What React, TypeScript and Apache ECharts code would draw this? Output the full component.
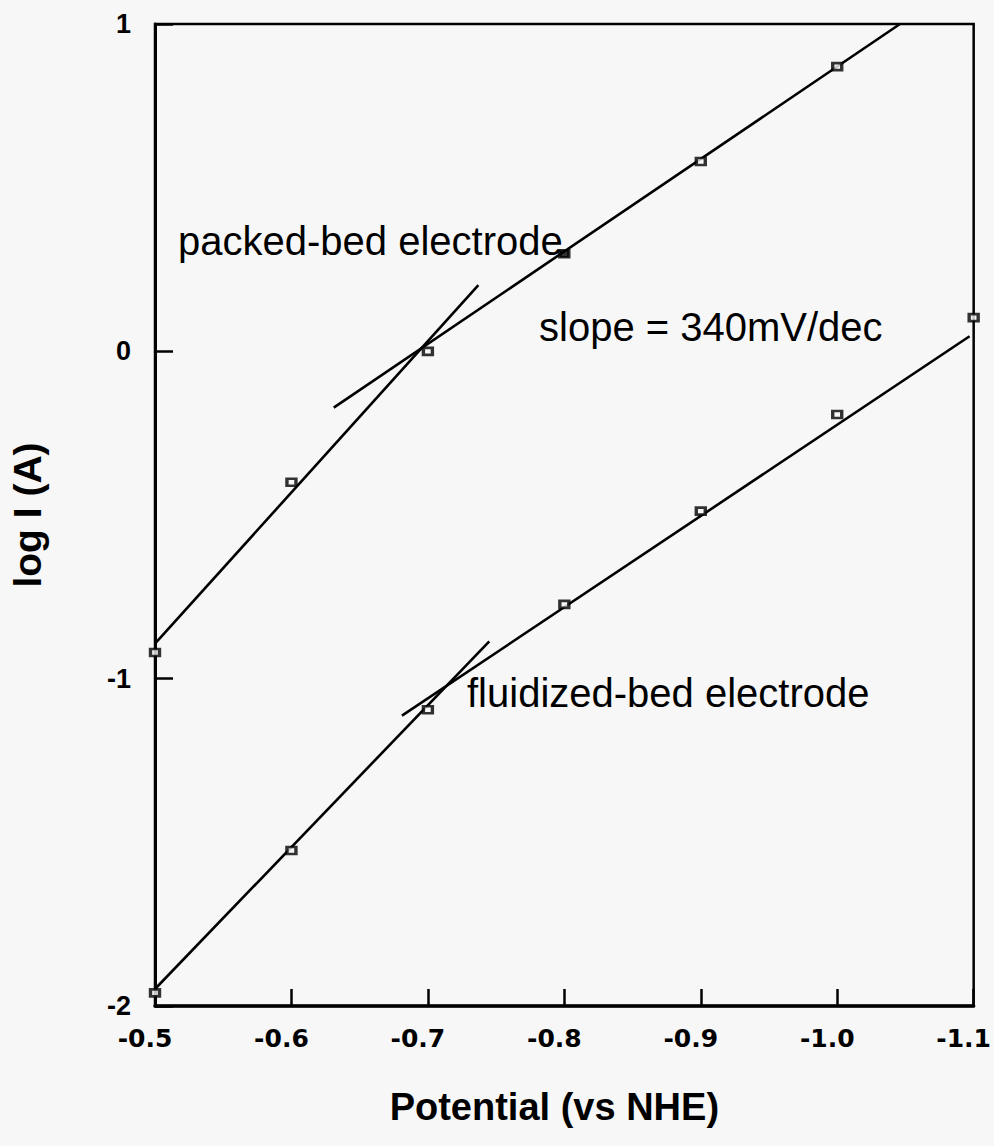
import React, { useEffect, useRef } from "react";
import * as echarts from "echarts";

// Data
const potentials = [-0.5, -0.6, -0.7, -0.8, -0.9, -1.0, -1.1];
const packedLogI = [-0.92, -0.4, 0.0, 0.298, 0.58, 0.87];
const fluidizedLogI = [-1.96, -1.525, -1.095, -0.773, -0.488, -0.193, 0.103];
const filledPackedIndex = 3; // the -0.8 V packed-bed point is drawn filled

// Fitted straight-line segments [x, y] endpoints
const packedSteepFit = [[-0.5, -0.893], [-0.737, 0.202]];
const packedShallowFit = [[-0.631, -0.172], [-1.046, 1.0]];
const fluidizedSteepFit = [[-0.5, -1.948], [-0.745, -0.886]];
const fluidizedShallowFit = [[-0.681, -1.113], [-1.097, 0.046]];

const xTicks = { min: -1.1, max: -0.5, interval: 0.1 };
const yTicks = { min: -2, max: 1, interval: 1 };

const annotations = [
  { text: "packed-bed electrode", x: 178, y: 241 },
  { text: "slope = 340mV/dec", x: 539, y: 327 },
  { text: "fluidized-bed electrode", x: 467, y: 693 },
];

const FONT = "'Liberation Sans', Arial, Helvetica, sans-serif";
const TICK_FONT = "'DejaVu Sans', 'Liberation Sans', Arial, sans-serif";
const BG = "#f7f7f7";

export default function App() {
  const ref = useRef<HTMLDivElement>(null);

  useEffect(() => {
    document.body.style.margin = "0";
    document.body.style.background = BG;
    const chart = echarts.init(ref.current!, null, { renderer: "svg" });

    const fitLine = (name: string, pts: number[][]) => ({
      name,
      type: "line",
      data: pts,
      symbol: "none",
      silent: true,
      lineStyle: { color: "#000", width: 2.6 },
      z: 3,
    });

    const markerStyle = { color: BG, borderColor: "#000", borderWidth: 3 };

    chart.setOption({
      animation: false,
      backgroundColor: BG,
      grid: {
        left: 153,
        right: 18,
        top: 24,
        bottom: 140,
        show: true,
        borderColor: "#000",
        borderWidth: 2.5,
        backgroundColor: "transparent",
      },
      xAxis: {
        type: "value",
        min: xTicks.min,
        max: xTicks.max,
        interval: xTicks.interval,
        inverse: true,
        name: "Potential (vs NHE)",
        nameLocation: "middle",
        nameGap: 82,
        nameTextStyle: {
          fontFamily: FONT,
          fontSize: 38,
          fontWeight: "bold",
          color: "#000",
          padding: [0, 20, 0, 0],
        },
        axisLine: { show: true, onZero: false, lineStyle: { color: "#000", width: 3.5 } },
        axisTick: { show: true, inside: true, length: 17, lineStyle: { color: "#000", width: 2.5 } },
        axisLabel: {
          margin: 20,
          fontFamily: TICK_FONT,
          fontSize: 25,
          fontWeight: "bold",
          color: "#000",
          padding: [0, 20, 0, 0],
          showMinLabel: true,
          showMaxLabel: true,
          formatter: (v: number) => v.toFixed(1),
        },
        splitLine: { show: false },
      },
      yAxis: {
        type: "value",
        min: yTicks.min,
        max: yTicks.max,
        interval: yTicks.interval,
        name: "log I (A)",
        nameLocation: "middle",
        nameGap: 108,
        nameTextStyle: { fontFamily: FONT, fontSize: 39, fontWeight: "bold", color: "#000" },
        axisLine: { show: true, onZero: false, lineStyle: { color: "#000", width: 3 } },
        axisTick: { show: true, inside: true, length: 18, lineStyle: { color: "#000", width: 2.5 } },
        axisLabel: {
          margin: 24,
          fontFamily: FONT,
          fontSize: 27,
          fontWeight: "bold",
          color: "#000",
          formatter: (v: number) => String(Math.round(v)),
        },
        splitLine: { show: false },
      },
      graphic: annotations.map((a) => ({
        type: "text",
        x: a.x,
        y: a.y,
        z: 10,
        style: {
          text: a.text,
          fontFamily: FONT,
          fontSize: 40,
          fill: "#000",
          textAlign: "left",
          textVerticalAlign: "middle",
        },
      })),
      series: [
        fitLine("packed steep", packedSteepFit),
        fitLine("packed shallow", packedShallowFit),
        fitLine("fluidized steep", fluidizedSteepFit),
        fitLine("fluidized shallow", fluidizedShallowFit),
        {
          name: "packed-bed electrode",
          type: "scatter",
          symbol: "rect",
          symbolSize: [9, 7],
          itemStyle: markerStyle,
          z: 5,
          data: packedLogI.map((y, i) =>
            i === filledPackedIndex
              ? { value: [potentials[i], y], itemStyle: { color: "#000" } }
              : [potentials[i], y]
          ),
        },
        {
          name: "fluidized-bed electrode",
          type: "scatter",
          symbol: "rect",
          symbolSize: [9, 7],
          itemStyle: markerStyle,
          z: 5,
          data: fluidizedLogI.map((y, i) => [potentials[i], y]),
        },
      ],
    });

    return () => chart.dispose();
  }, []);

  return (
    <div
      ref={ref}
      style={{ position: "absolute", left: 0, top: 0, width: 994, height: 1146 }}
    />
  );
}
